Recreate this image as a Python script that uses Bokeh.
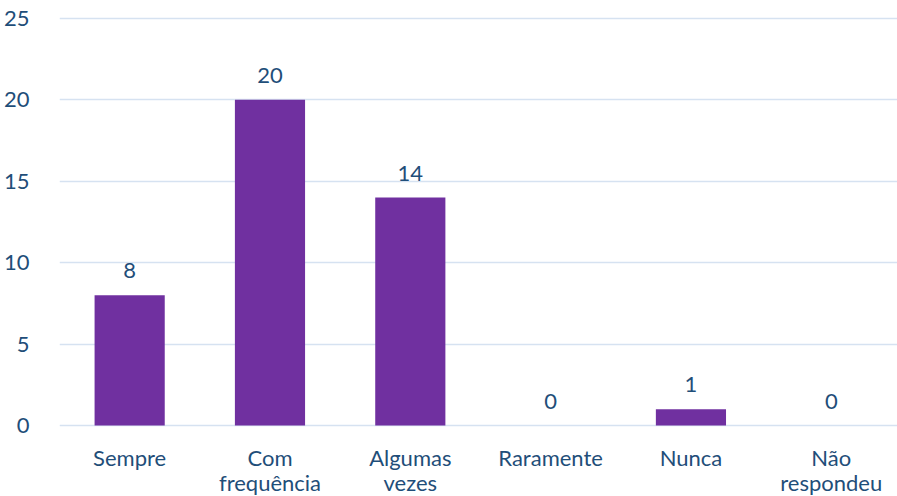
from bokeh.plotting import figure
from bokeh.models import ColumnDataSource, FixedTicker, LabelSet
from bokeh.core.properties import value
from bokeh.embed import file_html
from bokeh.resources import INLINE

categories = ["Sempre", "Com frequência", "Algumas vezes", "Raramente", "Nunca", "Não respondeu"]
label_line1 = ["Sempre", "Com", "Algumas", "Raramente", "Nunca", "Não"]
label_line2 = ["", "frequência", "vezes", "", "", "respondeu"]
values = [8, 20, 14, 0, 1, 0]
y_ticks = [0, 5, 10, 15, 20, 25]

BAR = "#7030A0"
TXT = "#1F4E79"
GRID = "#D6E2F1"
FONT = "Lato"

xs = list(range(len(categories)))
src = ColumnDataSource(dict(x=xs, cat=categories, top=values,
                            label=[str(v) for v in values],
                            l1=label_line1, l2=label_line2,
                            zero=[0] * len(categories)))

# frame: top 16, bottom 496, 16.28 px per unit
p = figure(x_range=(-0.5, 5.472), y_range=(-4.36, 25.12), width=897, height=496,
           output_backend="svg", toolbar_location=None,
           min_border_left=58, min_border_right=0, min_border_top=16, min_border_bottom=0)
p.outline_line_color = None
p.vbar(x="x", top="top", width=0.5, source=src, fill_color=BAR, line_color=None)

common = dict(source=src, text_align="center", text_color=TXT,
              text_font=value(FONT), text_font_size="22px", text_baseline="alphabetic")
p.add_layout(LabelSet(x="x", y="top", text="label", y_offset=17, **common))
p.add_layout(LabelSet(x="x", y="zero", text="l1", y_offset=-40, **common))
p.add_layout(LabelSet(x="x", y="zero", text="l2", y_offset=-65, **common))

p.xaxis.visible = False
p.xgrid.grid_line_color = None

p.yaxis.ticker = FixedTicker(ticks=y_ticks)
p.yaxis.axis_line_color = None
p.yaxis.major_tick_line_color = None
p.yaxis.minor_tick_line_color = None
p.yaxis.major_label_text_color = TXT
p.yaxis.major_label_text_font = FONT
p.yaxis.major_label_text_font_size = "22px"
p.yaxis.major_label_standoff = 24

p.ygrid.ticker = FixedTicker(ticks=y_ticks)
p.ygrid.grid_line_color = GRID
p.ygrid.grid_line_width = 1.5

open("out.html", "w").write(file_html(p, INLINE))
